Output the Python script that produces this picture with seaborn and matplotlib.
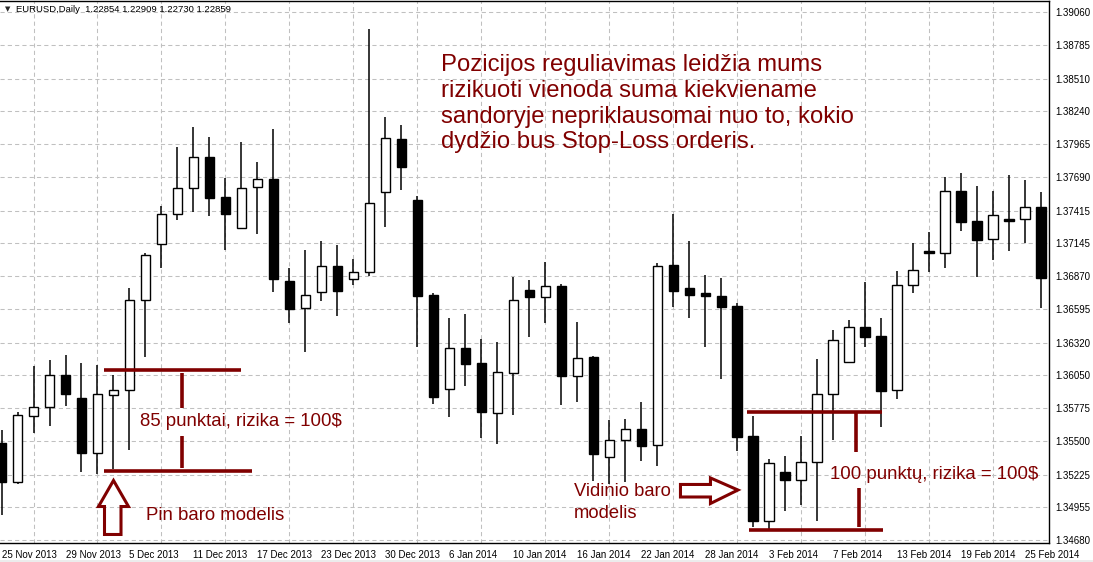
import numpy as np
import pandas as pd
import matplotlib
matplotlib.use("Agg")
import matplotlib.pyplot as plt
from matplotlib.patches import Polygon, Rectangle
import seaborn as sns

# EURUSD daily candles, 25 Nov 2013 .. 26 Feb 2014
opens = [1.35485, 1.35163, 1.35713, 1.35783, 1.36049, 1.35860, 1.35406, 1.35883, 1.35924, 1.36671,
         1.37140, 1.37384, 1.37600, 1.37860, 1.37528, 1.37273, 1.37608, 1.37677, 1.36831, 1.36604,
         1.36737, 1.36955, 1.36850, 1.36903, 1.37567, 1.38009, 1.37503, 1.36715, 1.35932, 1.36273,
         1.36148, 1.35738, 1.36070, 1.36754, 1.36701, 1.36792, 1.36045, 1.36200, 1.35368, 1.35509,
         1.35601, 1.35468, 1.36964, 1.36773, 1.36731, 1.36706, 1.36623, 1.35545, 1.34837, 1.35249,
         1.35177, 1.35329, 1.35896, 1.36156, 1.36447, 1.36375, 1.35927, 1.36795, 1.37077, 1.37061,
         1.37575, 1.37329, 1.37177, 1.37345, 1.37343, 1.37442]
highs = [1.35595, 1.35744, 1.36126, 1.36175, 1.36217, 1.36151, 1.36134, 1.36049, 1.36773, 1.37066,
         1.37453, 1.37943, 1.38108, 1.38025, 1.37685, 1.37981, 1.37818, 1.38092, 1.36941, 1.37088,
         1.37163, 1.37130, 1.37013, 1.38921, 1.38191, 1.38125, 1.37536, 1.36729, 1.36524, 1.36557,
         1.36350, 1.36325, 1.36864, 1.36837, 1.36988, 1.36806, 1.36493, 1.36209, 1.35678, 1.35686,
         1.35827, 1.36978, 1.37384, 1.37165, 1.36877, 1.36856, 1.36646, 1.35711, 1.35354, 1.35377,
         1.35545, 1.36184, 1.36424, 1.36507, 1.36823, 1.36521, 1.36914, 1.37144, 1.37237, 1.37694,
         1.37724, 1.37619, 1.37578, 1.37710, 1.37669, 1.37567]
lows = [1.34890, 1.35147, 1.35572, 1.35630, 1.35796, 1.35244, 1.35230, 1.35271, 1.35429, 1.36203,
        1.36936, 1.37337, 1.37403, 1.37370, 1.37090, 1.37273, 1.37223, 1.36742, 1.36485, 1.36244,
        1.36667, 1.36543, 1.36798, 1.36872, 1.37281, 1.37586, 1.36286, 1.35810, 1.35705, 1.35962,
        1.35528, 1.35481, 1.35719, 1.36369, 1.36485, 1.35802, 1.35830, 1.35172, 1.35147, 1.35161,
        1.35340, 1.35299, 1.36618, 1.36526, 1.36286, 1.36022, 1.35423, 1.34788, 1.34776, 1.34923,
        1.34973, 1.34842, 1.35512, 1.36156, 1.36286, 1.35617, 1.35849, 1.36729, 1.36906, 1.36941,
        1.37243, 1.36862, 1.37005, 1.37077, 1.37149, 1.36607]
closes = [1.35161, 1.35719, 1.35786, 1.36049, 1.35896, 1.35406, 1.35891, 1.35924, 1.36671, 1.37047,
          1.37384, 1.37600, 1.37860, 1.37522, 1.37389, 1.37600, 1.37675, 1.36847, 1.36599, 1.36715,
          1.36955, 1.36750, 1.36903, 1.37475, 1.38015, 1.37779, 1.36709, 1.35871, 1.36273, 1.36145,
          1.35747, 1.36073, 1.36671, 1.36701, 1.36787, 1.36045, 1.36190, 1.35398, 1.35509, 1.35601,
          1.35465, 1.36955, 1.36750, 1.36717, 1.36704, 1.36618, 1.35539, 1.34842, 1.35323, 1.35177,
          1.35329, 1.35891, 1.36339, 1.36447, 1.36369, 1.35921, 1.36795, 1.36920, 1.37061, 1.37575,
          1.37318, 1.37174, 1.37376, 1.37331, 1.37442, 1.36858]

date_labels = ["25 Nov 2013", "29 Nov 2013", "5 Dec 2013", "11 Dec 2013", "17 Dec 2013",
               "23 Dec 2013", "30 Dec 2013", "6 Jan 2014", "10 Jan 2014", "16 Jan 2014",
               "22 Jan 2014", "28 Jan 2014", "3 Feb 2014", "7 Feb 2014", "13 Feb 2014",
               "19 Feb 2014", "25 Feb 2014"]
price_labels = ["1.39060", "1.38785", "1.38510", "1.38240", "1.37965", "1.37690", "1.37415",
                "1.37145", "1.36870", "1.36595", "1.36320", "1.36050", "1.35775", "1.35500",
                "1.35225", "1.34955", "1.34680"]

header = "EURUSD,Daily  1.22854 1.22909 1.22730 1.22859"
main_note = ["Pozicijos reguliavimas leidžia mums",
             "rizikuoti vienoda suma kiekviename",
             "sandoryje nepriklausomai nuo to, kokio",
             "dydžio bus Stop-Loss orderis."]

# stop-loss levels drawn on the chart
pin_hi, pin_lo = 1.36093, 1.35255
ib_hi, ib_lo = 1.35742, 1.34765

red = "#800000"

df = pd.DataFrame({"open": opens, "high": highs, "low": lows, "close": closes})
df["i"] = np.arange(len(df))
df["up"] = df["close"] >= df["open"]

sns.set_style("white")
plt.rcParams["font.family"] = ["Liberation Sans", "DejaVu Sans"]

fig = plt.figure(figsize=(10.93, 5.62), dpi=100)
ax = fig.add_axes([0, 0.0333, 0.96, 0.965])

# wicks then bodies
ax.vlines(df["i"], df["low"], df["high"], color="black", lw=1.1, zorder=2)
ax.bar(df["i"], (df["close"] - df["open"]).abs(),
       bottom=df[["open", "close"]].min(axis=1), width=0.62,
       color=np.where(df["up"], "white", "black"), edgecolor="black",
       linewidth=1.0, zorder=3)

ax.set_xlim(-0.094, 65.49)
ax.set_ylim(1.34655, 1.39154)

ax.set_xticks(np.arange(0, len(df), 4))
ax.set_xticklabels(date_labels, fontsize=7, ha="left")
ax.set_xticks(np.arange(2, len(df), 2), minor=True)
ax.set_yticks([float(p) for p in price_labels])
ax.set_yticklabels(price_labels, fontsize=7)
ax.yaxis.tick_right()
ax.tick_params(axis="x", which="major", length=3, width=0.8, pad=1.5, colors="black")
ax.tick_params(axis="x", which="minor", length=0)
ax.tick_params(axis="y", length=3, width=0.8, pad=1.2, colors="black")

grid_kw = dict(color="#c0c0c0", lw=0.75, linestyle=(0, (4, 3)))
ax.grid(True, axis="x", which="minor", **grid_kw)
ax.grid(True, axis="y", which="major", **grid_kw)
ax.set_axisbelow(True)

sns.despine(ax=ax, left=True, top=False, right=False, bottom=False)
for s in ["top", "right", "bottom"]:
    ax.spines[s].set_color("black")
    ax.spines[s].set_linewidth(1.0)

# window border strip at the very bottom
fig.add_artist(Rectangle((0, 0), 1, 2.5 / 562, transform=fig.transFigure,
                         facecolor="#ececec", edgecolor="none"))

# header
fig.text(5 / 1093, 1 - 9.5 / 562, "▼", fontsize=5, family="DejaVu Sans", va="center")
fig.text(16.5 / 1093, 1 - 9.5 / 562, header, fontsize=6.8, va="center", color="black")

# main note
for k, line in enumerate(main_note):
    ax.text(27.47, 1.38573 - k * 0.00214, line, fontsize=17.2, color=red, va="baseline", zorder=5)

# pin bar setup
lw_red = 2.6
ax.plot([6.41, 14.95], [pin_hi, pin_hi], color=red, lw=lw_red, solid_capstyle="butt", zorder=4)
ax.plot([6.41, 15.66], [pin_lo, pin_lo], color=red, lw=lw_red, solid_capstyle="butt", zorder=4)
ax.plot([11.28, 11.28], [1.36068, 1.35777], color=red, lw=lw_red, solid_capstyle="butt", zorder=4)
ax.plot([11.28, 11.28], [1.35545, 1.35277], color=red, lw=lw_red, solid_capstyle="butt", zorder=4)
ax.text(8.66, 1.35631, "85 punktai, rizika = 100$", fontsize=13.4, color=red, va="baseline", zorder=5)
ax.text(9.01, 1.34848, "Pin baro modelis", fontsize=13.4, color=red, va="baseline", zorder=5)
up_arrow = [(7.0, 1.35176), (7.9375, 1.34960), (7.469, 1.34960), (7.469, 1.34728),
            (6.4375, 1.34728), (6.4375, 1.34960), (6.0625, 1.34960)]
ax.add_patch(Polygon(up_arrow, closed=True, facecolor="none", edgecolor=red, lw=2.2, zorder=5))

# inside bar setup
ax.plot([46.61, 55.01], [ib_hi, ib_hi], color=red, lw=lw_red, solid_capstyle="butt", zorder=4)
ax.plot([46.74, 55.08], [ib_lo, ib_lo], color=red, lw=lw_red, solid_capstyle="butt", zorder=4)
ax.plot([53.43, 53.43], [1.35733, 1.35410], color=red, lw=lw_red, solid_capstyle="butt", zorder=4)
ax.plot([53.61, 53.61], [1.35116, 1.34788], color=red, lw=lw_red, solid_capstyle="butt", zorder=4)
ax.text(51.78, 1.35188, "100 punktų, rizika = 100$", fontsize=13.4, color=red, va="baseline", zorder=5)
ax.text(35.8, 1.35047, "Vidinio baro", fontsize=13.2, color=red, va="baseline", zorder=5)
ax.text(35.8, 1.34862, "modelis", fontsize=13.2, color=red, va="baseline", zorder=5)
right_arrow = [(46.03, 1.35097), (44.3125, 1.35197), (44.3125, 1.35143), (42.4375, 1.35143),
               (42.4375, 1.35039), (44.3125, 1.35039), (44.3125, 1.34985)]
ax.add_patch(Polygon(right_arrow, closed=True, facecolor="none", edgecolor=red, lw=2.2, zorder=5))

fig.savefig("out.png", dpi=100)
